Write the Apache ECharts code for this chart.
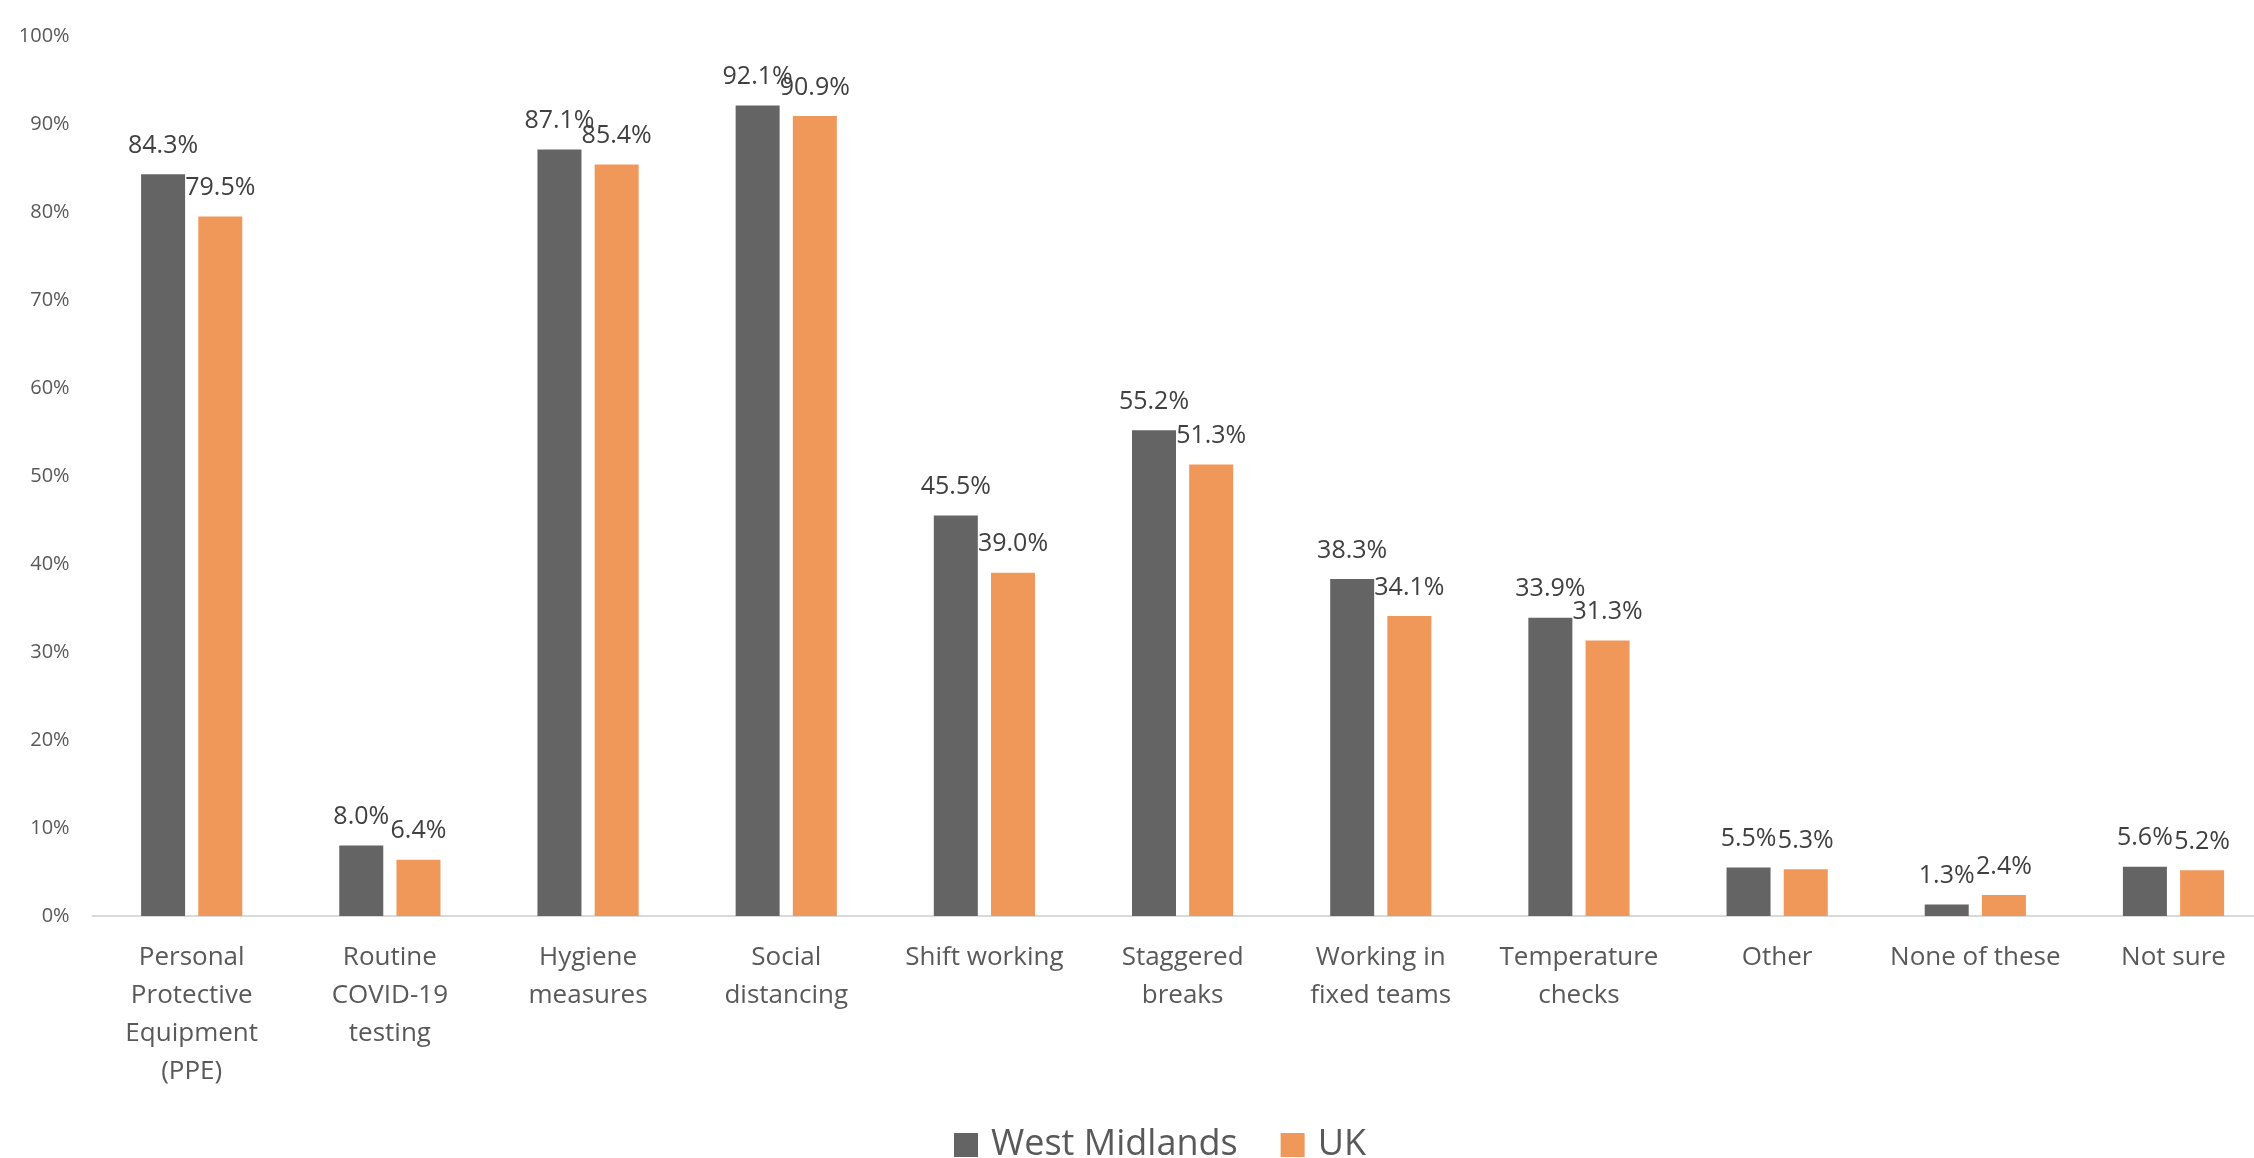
<!DOCTYPE html>
<html>
<head>
<meta charset="utf-8">
<script src="https://cdn.jsdelivr.net/npm/echarts@6/dist/echarts.min.js"></script>
<style>
html,body{margin:0;padding:0;background:#fff;}
#chart{width:2254px;height:1158px;}
</style>
</head>
<body>
<div id="chart"></div>
<script>
const categories = [
  "Personal\nProtective\nEquipment\n(PPE)",
  "Routine\nCOVID-19\ntesting",
  "Hygiene\nmeasures",
  "Social\ndistancing",
  "Shift working",
  "Staggered\nbreaks",
  "Working in\nfixed teams",
  "Temperature\nchecks",
  "Other",
  "None of these",
  "Not sure"
];
const westMidlands = [84.3, 8.0, 87.1, 92.1, 45.5, 55.2, 38.3, 33.9, 5.5, 1.3, 5.6];
const uk = [79.5, 6.4, 85.4, 90.9, 39.0, 51.3, 34.1, 31.3, 5.3, 2.4, 5.2];
const seriesNames = ["West Midlands", "UK"];
const yTicks = { min: 0, max: 100, interval: 10 };

const FONT = "Open Sans";
const chart = echarts.init(document.getElementById('chart'), null, { renderer: 'canvas' });

const labelCfg = {
  show: true,
  position: 'top',
  distance: 16,
  color: '#404040',
  fontFamily: FONT,
  fontSize: 25,
  formatter: p => p.value.toFixed(1) + '%'
};

chart.setOption({
  animation: false,
  backgroundColor: '#ffffff',
  textStyle: { fontFamily: FONT },
  grid: { left: 92.6, top: 36, width: 2180, height: 880, containLabel: false, outerBoundsMode: 'none' },
  legend: {
    data: seriesNames,
    left: 949,
    top: 1122,
    icon: 'rect',
    itemWidth: 24,
    itemHeight: 24,
    itemGap: 43,
    textStyle: { fontFamily: FONT, fontSize: 36, color: '#595959', padding: [0, 0, 0, 8] }
  },
  xAxis: {
    type: 'category',
    data: categories,
    axisLine: { show: true, lineStyle: { color: '#D9D9D9', width: 2 } },
    axisTick: { show: false },
    axisLabel: {
      interval: 0,
      margin: 23,
      fontFamily: FONT,
      fontSize: 26,
      lineHeight: 38,
      color: '#595959',
      align: 'center'
    }
  },
  yAxis: {
    type: 'value',
    min: yTicks.min,
    max: yTicks.max,
    interval: yTicks.interval,
    splitLine: { show: false },
    axisLine: { show: false },
    axisTick: { show: false },
    axisLabel: {
      margin: 23,
      fontFamily: FONT,
      fontSize: 20,
      color: '#595959',
      formatter: '{value}%'
    }
  },
  series: [
    {
      name: seriesNames[0],
      type: 'bar',
      data: westMidlands,
      barWidth: 44,
      barGap: '30%',
      itemStyle: { color: '#646464' },
      label: labelCfg
    },
    {
      name: seriesNames[1],
      type: 'bar',
      data: uk,
      barWidth: 44,
      barGap: '30%',
      itemStyle: { color: '#F0975A' },
      label: labelCfg
    }
  ]
});
</script>
</body>
</html>
